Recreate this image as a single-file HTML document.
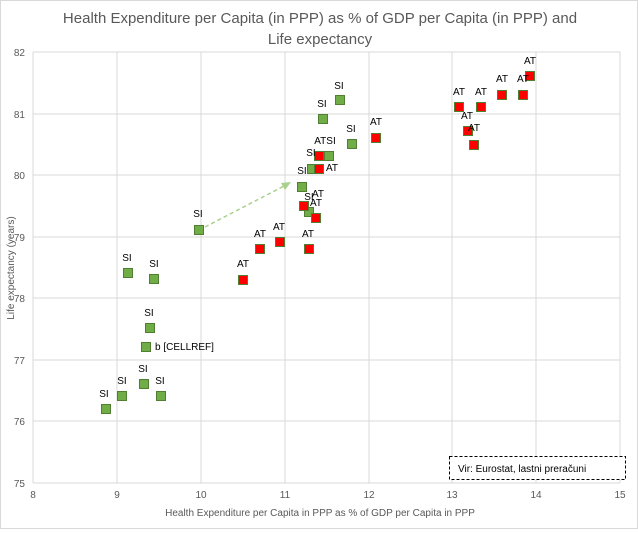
<!DOCTYPE html>
<html><head><meta charset="utf-8"><style>
body{margin:0;background:#fff}
text{font-family:"Liberation Sans",sans-serif}
</style></head><body>
<svg width="638" height="529" xmlns="http://www.w3.org/2000/svg">
<rect x="0.5" y="0.5" width="637" height="528" fill="#fff" stroke="#d9d9d9"/>
<text x="320" y="23" font-size="15" fill="#595959" text-anchor="middle">Health Expenditure per Capita (in PPP) as % of GDP per Capita (in PPP) and</text>
<text x="320" y="44" font-size="15" fill="#595959" text-anchor="middle">Life expectancy</text>
<g stroke="#d9d9d9" stroke-width="1">
<line x1="33" y1="52" x2="620" y2="52"/><line x1="33" y1="114" x2="620" y2="114"/><line x1="33" y1="175" x2="620" y2="175"/><line x1="33" y1="237" x2="620" y2="237"/><line x1="33" y1="298" x2="620" y2="298"/><line x1="33" y1="360" x2="620" y2="360"/><line x1="33" y1="421" x2="620" y2="421"/><line x1="33" y1="483" x2="620" y2="483"/>
<line x1="33" y1="52" x2="33" y2="483"/><line x1="117" y1="52" x2="117" y2="483"/><line x1="201" y1="52" x2="201" y2="483"/><line x1="285" y1="52" x2="285" y2="483"/><line x1="369" y1="52" x2="369" y2="483"/><line x1="452" y1="52" x2="452" y2="483"/><line x1="536" y1="52" x2="536" y2="483"/><line x1="620" y1="52" x2="620" y2="483"/>
</g>
<g font-size="10" fill="#595959" text-anchor="end">
<text x="25" y="56">82</text><text x="25" y="118">81</text><text x="25" y="179">80</text><text x="25" y="241">79</text><text x="25" y="302">78</text><text x="25" y="364">77</text><text x="25" y="425">76</text><text x="25" y="487">75</text>
</g>
<g font-size="10" fill="#595959" text-anchor="middle">
<text x="33" y="498">8</text><text x="117" y="498">9</text><text x="201" y="498">10</text><text x="285" y="498">11</text><text x="369" y="498">12</text><text x="452" y="498">13</text><text x="536" y="498">14</text><text x="620" y="498">15</text>
</g>
<text x="320" y="516" font-size="10" fill="#595959" text-anchor="middle">Health Expenditure per Capita in PPP as % of GDP per Capita in PPP</text>
<text transform="translate(14,268) rotate(-90)" font-size="10" fill="#595959" text-anchor="middle">Life expectancy (years)</text>
<line x1="205" y1="227" x2="284" y2="186" stroke="#a9d18e" stroke-width="1.5" stroke-dasharray="4,3"/>
<polygon points="291,182 281,183 285,190" fill="#a9d18e"/>
<g fill="#70ad47" stroke="#507e32" stroke-width="1">
<rect x="335.5" y="95.5" width="9" height="9"/><rect x="318.5" y="114.5" width="9" height="9"/><rect x="347.5" y="139.5" width="9" height="9"/><rect x="324.5" y="151.5" width="9" height="9"/><rect x="307.5" y="164.5" width="9" height="9"/><rect x="297.5" y="182.5" width="9" height="9"/><rect x="304.5" y="207.5" width="9" height="9"/><rect x="194.5" y="225.5" width="9" height="9"/><rect x="123.5" y="268.5" width="9" height="9"/><rect x="149.5" y="274.5" width="9" height="9"/><rect x="145.5" y="323.5" width="9" height="9"/><rect x="141.5" y="342.5" width="9" height="9"/><rect x="139.5" y="379.5" width="9" height="9"/><rect x="117.5" y="391.5" width="9" height="9"/><rect x="156.5" y="391.5" width="9" height="9"/><rect x="101.5" y="404.5" width="9" height="9"/>
</g>
<g fill="#ff0000" stroke="#507e32" stroke-width="1">
<rect x="314.5" y="151.5" width="9" height="9"/><rect x="314.5" y="164.5" width="9" height="9"/><rect x="299.5" y="201.5" width="9" height="9"/><rect x="311.5" y="213.5" width="9" height="9"/><rect x="371.5" y="133.5" width="9" height="9"/><rect x="238.5" y="275.5" width="9" height="9"/><rect x="255.5" y="244.5" width="9" height="9"/><rect x="275.5" y="237.5" width="9" height="9"/><rect x="304.5" y="244.5" width="9" height="9"/><rect x="454.5" y="102.5" width="9" height="9"/><rect x="476.5" y="102.5" width="9" height="9"/><rect x="497.5" y="90.5" width="9" height="9"/><rect x="518.5" y="90.5" width="9" height="9"/><rect x="525.5" y="71.5" width="9" height="9"/><rect x="463.5" y="126.5" width="9" height="9"/><rect x="469.5" y="140.5" width="9" height="9"/>
</g>
<g font-size="10" fill="#000" text-anchor="middle">
<text x="339" y="89">SI</text><text x="322" y="107">SI</text><text x="351" y="132">SI</text><text x="325" y="144">ATSI</text><text x="311" y="156">SI</text><text x="302" y="174">SI</text><text x="309" y="200">SI</text><text x="198" y="217">SI</text><text x="127" y="261">SI</text><text x="154" y="267">SI</text><text x="149" y="316">SI</text><text x="143" y="372">SI</text><text x="122" y="384">SI</text><text x="160" y="384">SI</text><text x="104" y="397">SI</text>
<text x="332" y="171">AT</text><text x="318" y="197">AT</text><text x="316" y="206">AT</text><text x="376" y="125">AT</text><text x="243" y="267">AT</text><text x="260" y="237">AT</text><text x="279" y="230">AT</text><text x="308" y="237">AT</text><text x="459" y="95">AT</text><text x="481" y="95">AT</text><text x="502" y="82">AT</text><text x="523" y="82">AT</text><text x="530" y="64">AT</text><text x="467" y="119">AT</text><text x="474" y="131">AT</text>
</g>
<text x="155" y="350" font-size="10" fill="#000">b [CELLREF]</text>
<rect x="449.5" y="456.5" width="176" height="23" fill="#fff" stroke="#000" stroke-dasharray="3,2"/>
<text x="458" y="472" font-size="10" fill="#000">Vir: Eurostat, lastni preračuni</text>
</svg>
</body></html>
